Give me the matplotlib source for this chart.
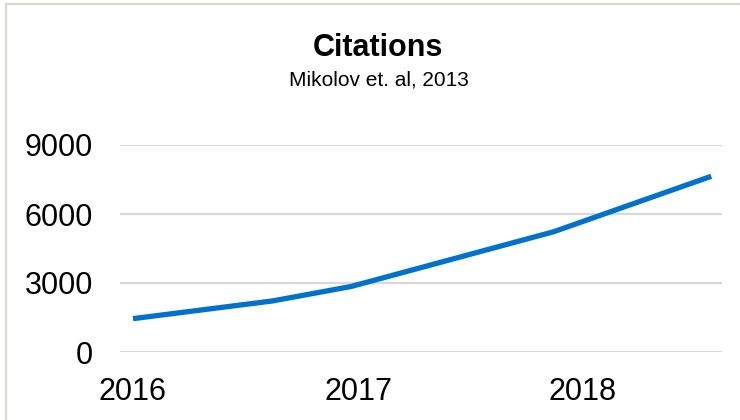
import matplotlib
matplotlib.use('Agg')
import matplotlib.pyplot as plt
from matplotlib.patches import Rectangle

# citations per point in time (decimal year)
years = [2016.0, 2016.62, 2016.97, 2017.87, 2018.57]
citations = [1450, 2220, 2850, 5230, 7640]
year_ticks = [2016, 2017, 2018]
count_ticks = [0, 3000, 6000, 9000]

plt.rcParams['font.family'] = ['Liberation Sans', 'DejaVu Sans']

fig = plt.figure(figsize=(7.4, 4.2), dpi=100)
W, H = 740, 420

# light frame round the chart (cut off at right and bottom)
fig.patches.append(Rectangle((6 / W, -0.1), 1.2, 1.1 - 4 / H, transform=fig.transFigure,
                             fill=False, edgecolor='#d8d8d0', linewidth=1.6))

# axes box in pixels: x 120..722, y 145..352
ax = fig.add_axes([120 / W, 1 - 352 / H, 602 / W, 207 / H])
ax.plot(years, citations, color='#0072CE', linewidth=3.8, solid_capstyle='butt',
        solid_joinstyle='round')

ax.set_ylim(0, 9000)
ax.set_xlim(2016 - 13 / 225, 2018 + 139 / 225)
ax.set_yticks(count_ticks)
ax.set_xticks(year_ticks)
ax.set_xticklabels([str(y) for y in year_ticks])
ax.grid(axis='y', color='#d9d9d9', linewidth=1.6)
ax.set_axisbelow(True)
for s in ax.spines.values():
    s.set_visible(False)
ax.tick_params(axis='both', length=0, labelsize=22, colors='black')
ax.tick_params(axis='y', pad=19.5)
ax.tick_params(axis='x', pad=18)

fig.text(378 / W, 1 - 47.5 / H, 'Citations', ha='center', va='center',
         fontsize=22, fontweight='bold')
fig.text(379 / W, 1 - 80 / H, 'Mikolov et. al, 2013', ha='center', va='center',
         fontsize=15)

fig.savefig('out.png', dpi=100)
